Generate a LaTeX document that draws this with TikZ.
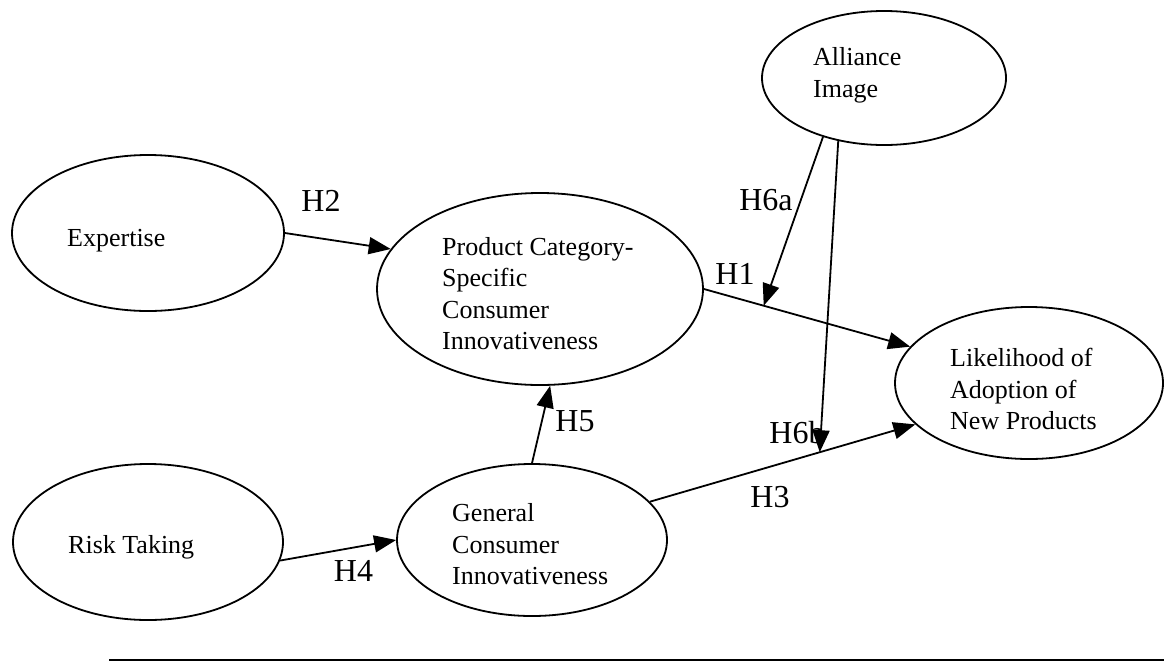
\documentclass[tikz,border=0pt]{standalone}
\usepackage{fontspec}
\setmainfont{Liberation Serif}
\usetikzlibrary{shapes.geometric,arrows.meta}
\begin{document}
\begin{tikzpicture}[x=1pt,y=-1pt,
  oval/.style={draw, ellipse, line width=1.8pt, inner sep=0pt},
  body/.style={font=\fontsize{26}{31.5}\selectfont, align=left, anchor=west, inner sep=0pt},
  hyp/.style={font=\fontsize{32}{38}\selectfont, inner sep=0pt},
  link/.style={line width=1.8pt, -{Triangle[length=22pt,width=17pt]}}
]
\useasboundingbox (0,0) rectangle (1164,662);

% constructs
\node[oval, minimum width=244pt, minimum height=134pt] (ali)  at (884,78)  {};
\node[oval, minimum width=272pt, minimum height=156pt] (exp)  at (148,233) {};
\node[oval, minimum width=326pt, minimum height=192pt] (pc)   at (540,289) {};
\node[oval, minimum width=268pt, minimum height=152pt] (lik)  at (1029,383) {};
\node[oval, minimum width=270pt, minimum height=156pt] (risk) at (148,542) {};
\node[oval, minimum width=270pt, minimum height=152pt] (gen)  at (532,540) {};

% construct names
\node[body] (aliT)  at (813,75.2)  {Alliance\\Image};
\node[body] (expT)  at (67,240.2)  {Expertise};
\node[body] (pcT)   at (442,293.6) {Product Category-\\Specific\\Consumer\\Innovativeness};
\node[body] (likT)  at (950,389.4) {Likelihood of\\Adoption of\\New Products};
\node[body] (riskT) at (68,547.2)  {Risk Taking};
\node[body] (genT)  at (452,544.4) {General\\Consumer\\Innovativeness};

% hypothesis labels
\node[hyp] (h2)  at (321,201)   {H2};
\node[hyp] (h1)  at (735,274)   {H1};
\node[hyp] (h6a) at (766,200)   {H6a};
\node[hyp] (h5)  at (575,421)   {H5};
\node[hyp] (h4)  at (353.5,571) {H4};
\node[hyp] (h6b) at (797,433)   {H6b};
\node[hyp] (h3)  at (770,497)   {H3};

% paths
\draw[link] (exp.east) -- (pc.165);
\draw[link] (pc.east) -- (lik.163) coordinate[pos=0.29] (h1mid);
\draw[link] (gen.18) -- (lik.200) coordinate[pos=0.64] (h3mid);
\draw[link] (risk.352) -- (gen.west);
\draw[link] (gen.north) -- (pc.276);
\draw[link] (ali.224) -- (h1mid);
\draw[link] (ali.234) -- (h3mid);

% rule under the figure
\draw[line width=1.5pt] (109,660) -- (1164,660);
\end{tikzpicture}
\end{document}
